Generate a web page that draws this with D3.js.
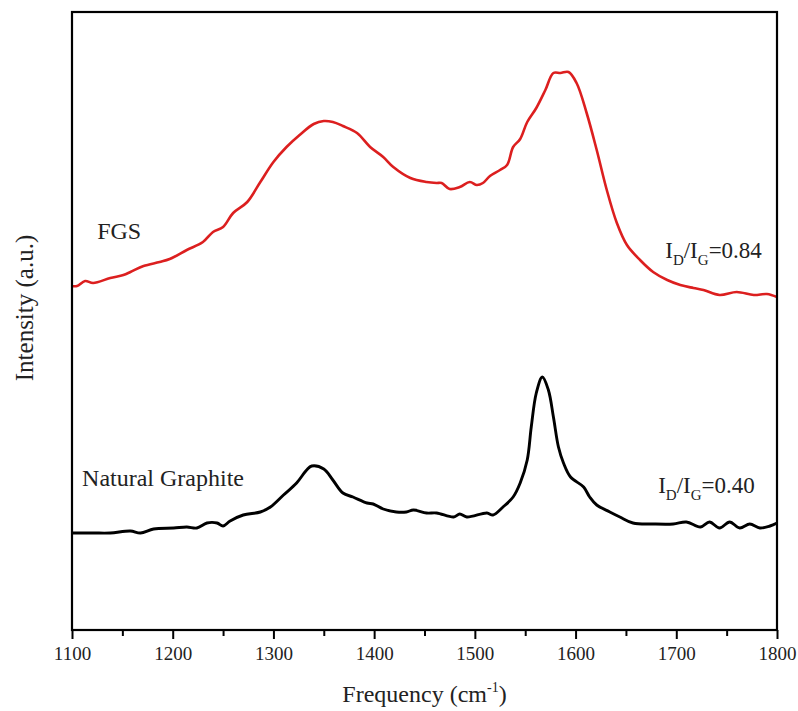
<!DOCTYPE html>
<html>
<head>
<meta charset="utf-8">
<script src="https://cdn.jsdelivr.net/npm/d3@7"></script>
<style>
  html, body { margin: 0; padding: 0; background: #fff; }
  svg { display: block; font-family: "Liberation Serif", "Times New Roman", serif; }
</style>
</head>
<body>
<svg id="chart" width="798" height="711"></svg>
<script>
// ---- Data (Raman spectra, intensity in arbitrary units) ----
const fgsFreq = [1100,1105,1113,1121,1138,1151,1158,1171,1187,1197,1214,1230,1240,1250,1260,1274,1287,1300,1313,1326,1340,1350,1359,1369,1383,1396,1409,1419,1436,1452,1462,1467,1475,1485,1495,1502,1508,1515,1525,1532,1538,1545,1552,1561,1570,1578,1585,1593,1601,1611,1621,1631,1641,1651,1664,1677,1691,1704,1717,1727,1743,1760,1777,1790,1800];
const fgsInt  = [344,344,349,347,352,355,358,364,368,371,380,388,398,403,417,428,448,468,483,495,506,509,508,504,497,483,473,463,452,448,447,447,441,443,448,445,447,454,460,465,483,491,508,522,540,557,557,558,547,517,480,440,407,385,370,358,350,345,342,340,335,338,335,336,333];

const ngFreq = [1100,1121,1138,1158,1168,1181,1201,1214,1224,1234,1244,1250,1257,1270,1287,1297,1310,1323,1333,1338,1350,1359,1369,1379,1393,1399,1409,1422,1432,1439,1452,1462,1479,1485,1492,1512,1518,1528,1538,1545,1552,1556,1561,1567,1573,1578,1583,1588,1595,1608,1614,1621,1634,1644,1657,1677,1697,1710,1724,1733,1743,1753,1763,1773,1783,1793,1800];
const ngInt  = [97,97,97,99,97,101,102,103,102,107,107,104,109,115,118,123,135,147,160,164,161,150,137,133,127,126,121,118,118,120,117,117,113,116,113,117,115,123,133,147,170,203,237,253,240,213,183,167,153,143,133,125,118,113,107,106,106,108,103,108,102,108,102,106,102,104,107];

const xTicks = [1100,1200,1300,1400,1500,1600,1700,1800];
const xMinorTicks = [1150,1250,1350,1450,1550,1650,1750];

const seriesNames = ["FGS", "Natural Graphite"];
const ratioLabels = ["0.84", "0.40"];

// ---- Layout ----
const svg = d3.select("#chart");
const mLeft = 72, mRight = 777, mTop = 12, mBottom = 630;

const x = d3.scaleLinear().domain([1100, 1800]).range([mLeft, mRight]);
const y = d3.scaleLinear().domain([0, 618]).range([mBottom, mTop]);

const line = d3.line()
  .x(d => x(d[0]))
  .y(d => y(d[1]))
  .curve(d3.curveCatmullRom.alpha(0.5));

const fgs = fgsFreq.map((f, i) => [f, fgsInt[i]]);
const ng = ngFreq.map((f, i) => [f, ngInt[i]]);

svg.append("path").datum(fgs)
  .attr("d", line).attr("fill", "none")
  .attr("stroke", "#dc1f1f").attr("stroke-width", 2.6)
  .attr("stroke-linejoin", "round");

svg.append("path").datum(ng)
  .attr("d", line).attr("fill", "none")
  .attr("stroke", "#000").attr("stroke-width", 2.9)
  .attr("stroke-linejoin", "round");

// Frame
svg.append("rect")
  .attr("x", mLeft).attr("y", mTop)
  .attr("width", mRight - mLeft).attr("height", mBottom - mTop)
  .attr("fill", "none").attr("stroke", "#000").attr("stroke-width", 2.2);

// X axis (major)
const xAxis = svg.append("g")
  .attr("transform", `translate(0,${mBottom})`)
  .call(d3.axisBottom(x).tickValues(xTicks).tickFormat(d3.format("d"))
    .tickSize(9).tickSizeOuter(0).tickPadding(8));
xAxis.select(".domain").remove();
xAxis.selectAll(".tick line").attr("stroke", "#000").attr("stroke-width", 2);
xAxis.selectAll(".tick text")
  .attr("font-family", "'Liberation Serif', 'Times New Roman', serif")
  .attr("font-size", 19).attr("fill", "#222");

// X axis (minor)
const xMinor = svg.append("g")
  .attr("transform", `translate(0,${mBottom})`)
  .call(d3.axisBottom(x).tickValues(xMinorTicks).tickFormat("")
    .tickSize(6).tickSizeOuter(0));
xMinor.select(".domain").remove();
xMinor.selectAll(".tick line").attr("stroke", "#000").attr("stroke-width", 2);

// Axis titles
const xt = svg.append("text")
  .attr("x", (mLeft + mRight) / 2).attr("y", 702)
  .attr("text-anchor", "middle").attr("font-size", 24).attr("fill", "#222");
xt.append("tspan").text("Frequency (cm");
xt.append("tspan").attr("dy", -10).attr("font-size", 14).text("-1");
xt.append("tspan").attr("dy", 10).text(")");

svg.append("text")
  .attr("transform", `translate(33,308) rotate(-90)`)
  .attr("text-anchor", "middle").attr("font-size", 25).attr("fill", "#222")
  .text("Intensity (a.u.)");

// Series labels
svg.append("text").attr("x", x(1125)).attr("y", y(391))
  .attr("font-size", 24).attr("fill", "#222").text(seriesNames[0]);
svg.append("text").attr("x", x(1110)).attr("y", y(144))
  .attr("font-size", 24).attr("fill", "#222").text(seriesNames[1]);

function ratio(fx, iy, val) {
  const t = svg.append("text").attr("x", x(fx)).attr("y", y(iy))
    .attr("font-size", 23).attr("fill", "#222");
  t.append("tspan").text("I");
  t.append("tspan").attr("dy", 7).attr("font-size", 15).text("D");
  t.append("tspan").attr("dy", -7).text("/I");
  t.append("tspan").attr("dy", 7).attr("font-size", 15).text("G");
  t.append("tspan").attr("dy", -7).text("=" + val);
}
ratio(1689, 372, ratioLabels[0]);
ratio(1682, 137, ratioLabels[1]);
</script>
</body>
</html>
